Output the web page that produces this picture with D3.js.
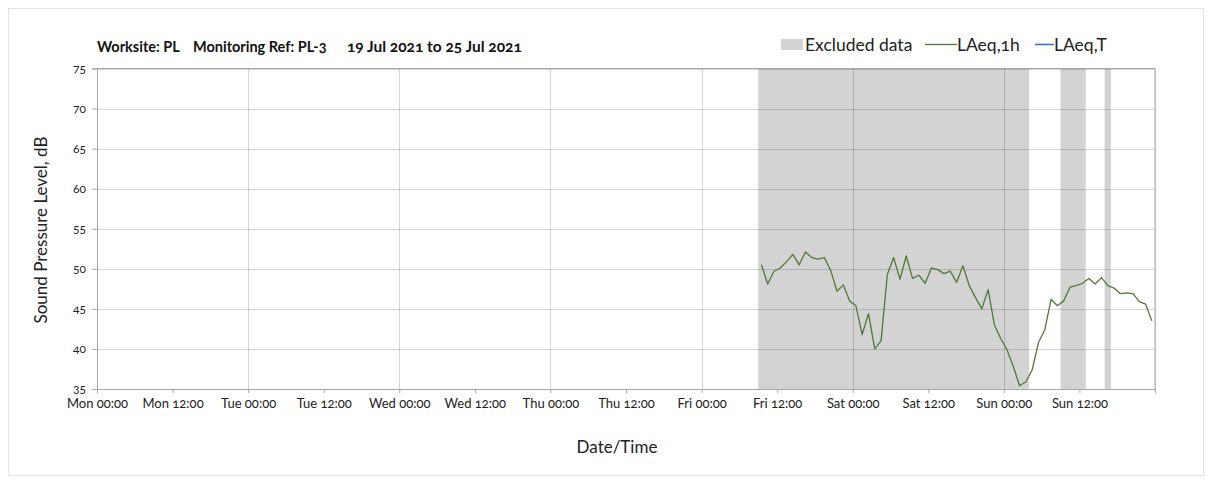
<!DOCTYPE html>
<html>
<head>
<meta charset="utf-8">
<script src="https://cdn.jsdelivr.net/npm/d3@7"></script>
<style>
  html, body { margin: 0; padding: 0; background: #fff; }
  svg { display: block; font-family: Lato, "Open Sans", sans-serif; font-variant-numeric: oldstyle-nums; }
</style>
</head>
<body>
<svg id="chart" width="1212" height="480"></svg>
<script>
// Monitoring window and hourly LAeq,1h readings (dB)
const weekStart = "2021-07-19T00:00";
const weekEnd = "2021-07-26T00:00";
const firstReading = "2021-07-23T09:30";
const laeq1h = [
  50.5, 48.1, 49.7, 50.1, 50.9, 51.8, 50.5, 52.1, 51.4, 51.2,
  51.4, 49.8, 47.2, 48.0, 46.0, 45.4, 41.8, 44.4, 40.0, 41.0,
  49.3, 51.4, 48.7, 51.6, 48.8, 49.2, 48.2, 50.1, 49.9, 49.4,
  49.7, 48.3, 50.4, 47.9, 46.4, 45.0, 47.4, 43.0, 41.3, 39.9,
  37.8, 35.4, 35.9, 37.4, 40.8, 42.4, 46.2, 45.4, 46.0, 47.7,
  47.9, 48.2, 48.8, 48.1, 48.9, 47.9, 47.6, 46.9, 47.0, 46.9,
  45.9, 45.6, 43.5
];
// Periods flagged as excluded data
const excludedStart = ["2021-07-23T09:00", "2021-07-25T09:00", "2021-07-25T16:00"];
const excludedEnd   = ["2021-07-25T04:00", "2021-07-25T13:00", "2021-07-25T17:00"];
const yTicks = [35, 40, 45, 50, 55, 60, 65, 70, 75];
const titleParts = ["Worksite: PL", "Monitoring Ref: PL-3", "19 Jul 2021 to 25 Jul 2021"];
const legendLabels = ["Excluded data", "LAeq,1h", "LAeq,T"];

const parse = d3.timeParse("%Y-%m-%dT%H:%M");
const t0 = parse(weekStart), t1 = parse(weekEnd);
const start = parse(firstReading);
const series = laeq1h.map((v, i) => ({ t: d3.timeHour.offset(start, i), v }));
const excluded = excludedStart.map((s, i) => ({ a: parse(s), b: parse(excludedEnd[i]) }));

const svg = d3.select("#chart");
const m = { left: 97, right: 1155, top: 68.5, bottom: 389 };

const x = d3.scaleTime().domain([t0, t1]).range([m.left, m.right]);
const y = d3.scaleLinear().domain([35, 75]).range([m.bottom, m.top]);

// outer frame
svg.append("rect").attr("x", 8.5).attr("y", 8.5).attr("width", 1195).attr("height", 467)
  .attr("fill", "none").attr("stroke", "#e3e3e3");

// excluded periods
svg.append("g").selectAll("rect").data(excluded).join("rect")
  .attr("x", d => x(d.a)).attr("width", d => x(d.b) - x(d.a))
  .attr("y", m.top).attr("height", m.bottom - m.top)
  .attr("fill", "#d3d3d3");

// gridlines
const grid = svg.append("g").attr("stroke", "rgba(0,0,0,0.16)").attr("stroke-width", 1);
yTicks.forEach(v => {
  grid.append("line").attr("x1", m.left).attr("x2", m.right)
    .attr("y1", Math.round(y(v)) + 0.5).attr("y2", Math.round(y(v)) + 0.5);
});
d3.timeDay.range(t0, d3.timeHour.offset(t1, 1)).forEach(d => {
  grid.append("line").attr("y1", m.top).attr("y2", m.bottom)
    .attr("x1", Math.round(x(d)) + 0.5).attr("x2", Math.round(x(d)) + 0.5);
});

// plot border (top and right)
svg.append("path")
  .attr("d", `M${m.left},${m.top}H${m.right}V${m.bottom}`)
  .attr("fill", "none").attr("stroke", "#a6a6a6");

// LAeq,1h line
svg.append("path").datum(series)
  .attr("fill", "none").attr("stroke", "#4e7a36").attr("stroke-width", 1.3)
  .attr("stroke-linejoin", "round")
  .attr("d", d3.line().x(d => x(d.t)).y(d => y(d.v)));

// axes
const fmt = d3.timeFormat("%a %H:%M");
const xAxis = d3.axisBottom(x)
  .tickValues(d3.timeHour.every(12).range(t0, d3.timeHour.offset(t1, 1)))
  .tickFormat(d => d < t1 ? fmt(d) : "")
  .tickSize(4).tickPadding(6);
const gx = svg.append("g").attr("transform", `translate(0,${m.bottom})`).call(xAxis);
gx.select(".domain").attr("stroke", "#a6a6a6");
gx.selectAll(".tick line").attr("stroke", "#a6a6a6");
gx.selectAll(".tick text").attr("font-size", 13).attr("fill", "#222")
  .attr("font-family", "Lato, 'Open Sans', sans-serif");

const yAxis = d3.axisLeft(y).tickValues(yTicks).tickSize(5).tickPadding(6);
const gy = svg.append("g").attr("transform", `translate(${m.left},0)`).call(yAxis);
gy.select(".domain").attr("stroke", "#a6a6a6");
gy.selectAll(".tick line").attr("stroke", "#a6a6a6");
gy.selectAll(".tick text").attr("font-size", 12).attr("fill", "#222")
  .attr("font-family", "Lato, 'Open Sans', sans-serif");

// axis titles
svg.append("text").attr("x", 617).attr("y", 453).attr("text-anchor", "middle")
  .attr("font-size", 17).attr("fill", "#222").text("Date/Time");
svg.append("text").attr("transform", "translate(47,230) rotate(-90)")
  .attr("text-anchor", "middle").attr("font-size", 17).attr("fill", "#222")
  .text("Sound Pressure Level, dB");

// title
const title = svg.append("g").attr("font-weight", "bold").attr("fill", "#111");
[[97, 14.5], [193, 14.5], [347, 15.5]].forEach(([tx, fs], i) => {
  title.append("text").attr("x", tx).attr("y", 52).attr("font-size", fs).text(titleParts[i]);
});

// legend
const lg = svg.append("g").attr("font-size", 17.5).attr("fill", "#222");
lg.append("rect").attr("x", 781).attr("y", 39).attr("width", 22).attr("height", 11).attr("fill", "#d3d3d3");
lg.append("text").attr("x", 805).attr("y", 50.5).text(legendLabels[0]);
lg.append("line").attr("x1", 925).attr("x2", 957).attr("y1", 44.5).attr("y2", 44.5)
  .attr("stroke", "#4e7a36").attr("stroke-width", 1.3);
lg.append("text").attr("x", 957).attr("y", 50.5).text(legendLabels[1]);
lg.append("line").attr("x1", 1035).attr("x2", 1054).attr("y1", 44.5).attr("y2", 44.5)
  .attr("stroke", "#4472c4").attr("stroke-width", 1.6);
lg.append("text").attr("x", 1054).attr("y", 50.5).text(legendLabels[2]);
</script>
</body>
</html>
